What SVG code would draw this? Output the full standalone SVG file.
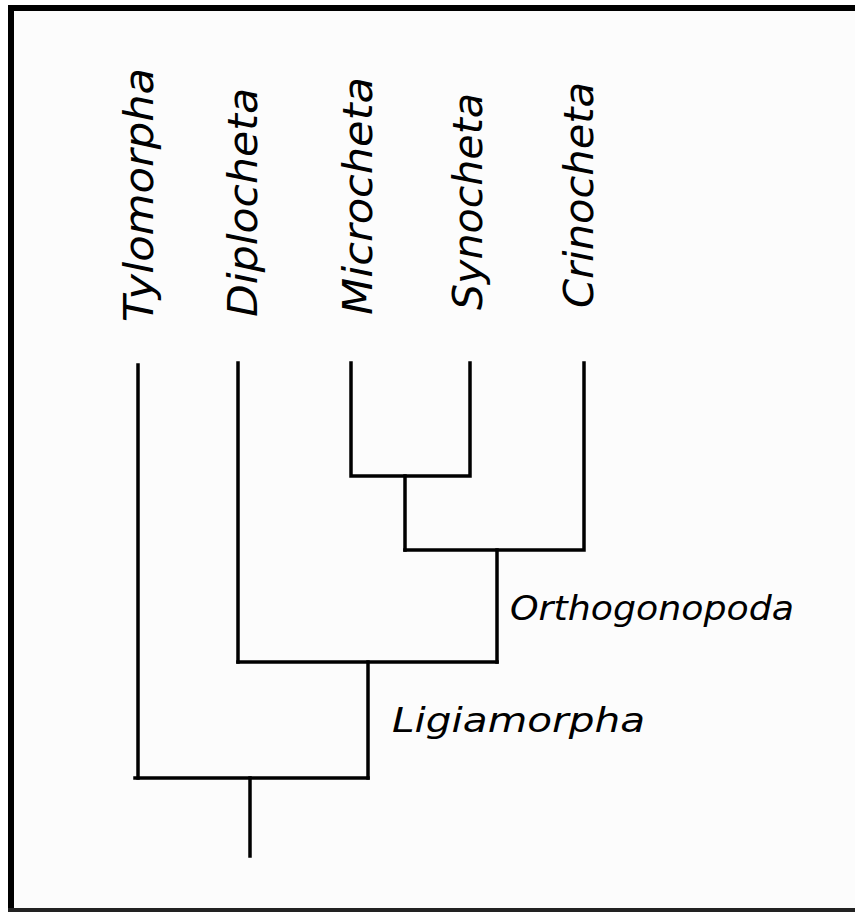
<svg xmlns="http://www.w3.org/2000/svg" width="855" height="912" viewBox="0 0 855 912">
  <style>
    .frame { fill: none; stroke: #000; stroke-width: 6; }
    .frame-bottom { fill: none; stroke: #222; stroke-width: 4; }
    .edge { fill: none; stroke: #000; stroke-width: 3.5; stroke-linecap: square; stroke-linejoin: miter; }
    .taxon { font-family: "DejaVu Sans", "Liberation Sans", sans-serif; font-style: italic; font-size: 40px; fill: #000; }
    .clade { font-family: "DejaVu Sans", "Liberation Sans", sans-serif; font-style: italic; font-size: 34px; fill: #000; }
  </style>
  <rect width="855" height="912" fill="#fff"/>
  <rect x="14" y="11" width="841" height="897" fill="#fcfcfc"/>
  <path class="frame" d="M11 912 V8 H855"/>
  <path class="frame-bottom" d="M8 910 H855"/>

  <g id="connectors">
    <path class="edge" d="M138 365 V778"/>
    <path class="edge" d="M238 363 V662"/>
    <path class="edge" d="M351 363 V476 H470 V363"/>
    <path class="edge" d="M405 476 V550"/>
    <path class="edge" d="M405 550 H584 V363"/>
    <path class="edge" d="M497 550 V662"/>
    <path class="edge" d="M238 662 H497"/>
    <path class="edge" d="M368 662 V778"/>
    <path class="edge" d="M135 778 H368"/>
    <path class="edge" d="M250 778 V856"/>
  </g>

  <g id="tylomorpha">
    <text class="taxon" transform="translate(153 322) rotate(-90)" textLength="254" lengthAdjust="spacingAndGlyphs">Tylomorpha</text>
  </g>
  <g id="diplocheta">
    <text class="taxon" transform="translate(257 317) rotate(-90)" textLength="229" lengthAdjust="spacingAndGlyphs">Diplocheta</text>
  </g>
  <g id="microcheta">
    <text class="taxon" transform="translate(372 315) rotate(-90)" textLength="238" lengthAdjust="spacingAndGlyphs">Microcheta</text>
  </g>
  <g id="synocheta">
    <text class="taxon" transform="translate(482 310) rotate(-90)" textLength="217" lengthAdjust="spacingAndGlyphs">Synocheta</text>
  </g>
  <g id="crinocheta">
    <text class="taxon" transform="translate(593 308) rotate(-90)" textLength="226" lengthAdjust="spacingAndGlyphs">Crinocheta</text>
  </g>
  <g id="orthogonopoda">
    <text class="clade" x="510" y="620" textLength="284" lengthAdjust="spacingAndGlyphs">Orthogonopoda</text>
  </g>
  <g id="ligiamorpha">
    <text class="clade" x="392" y="732" textLength="253" lengthAdjust="spacingAndGlyphs">Ligiamorpha</text>
  </g>
</svg>
